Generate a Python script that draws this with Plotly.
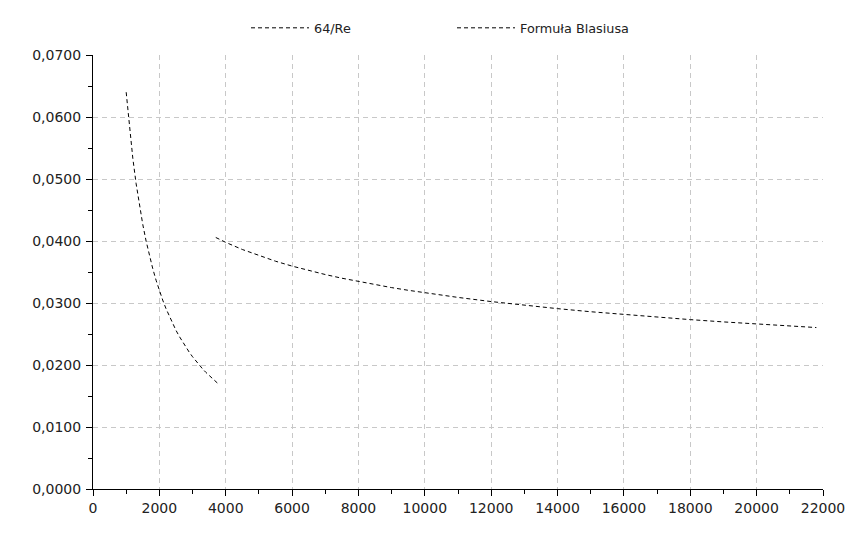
import plotly.graph_objects as go

# 64/Re (laminar)
re_lam = [1000, 1100, 1200, 1300, 1400, 1500, 1600, 1700, 1800, 1900, 2000,
          2100, 2200, 2300, 2400, 2500, 2600, 2700, 2800, 2900, 3000,
          3100, 3200, 3300, 3400, 3500, 3600, 3700, 3800]
f_lam = [0.0640, 0.05818, 0.05333, 0.04923, 0.04571, 0.04267, 0.0400, 0.03765,
         0.03556, 0.03368, 0.0320, 0.03048, 0.02909, 0.02783, 0.02667, 0.02560,
         0.02462, 0.02370, 0.02286, 0.02207, 0.02133, 0.02065, 0.0200, 0.01939,
         0.01882, 0.01829, 0.01778, 0.01730, 0.01684]

# Formuła Blasiusa
re_bla = [3700, 4000, 4500, 5000, 5500, 6000, 6500, 7000, 7500, 8000, 8500,
          9000, 9500, 10000, 11000, 12000, 13000, 14000, 15000, 16000, 17000,
          18000, 19000, 20000, 21000, 21800]
f_bla = [0.04057, 0.03978, 0.03863, 0.03763, 0.03674, 0.03595, 0.03523, 0.03459,
         0.03400, 0.03346, 0.03295, 0.03248, 0.03205, 0.03164, 0.03090, 0.03023,
         0.02963, 0.02909, 0.02859, 0.02813, 0.02771, 0.02732, 0.02695, 0.02661,
         0.02628, 0.02604]

names = ["64/Re", "Formuła Blasiusa"]

fig = go.Figure()
fig.add_trace(go.Scatter(x=re_lam, y=f_lam, mode="lines", name=names[0],
                         line=dict(color="black", width=1, dash="4px,3px")))
fig.add_trace(go.Scatter(x=re_bla, y=f_bla, mode="lines", name=names[1],
                         line=dict(color="black", width=1, dash="4px,3px")))

grid = dict(showgrid=True, gridcolor="#c8c8c8", gridwidth=1, griddash="5px,4px")

W, H = 857, 537
fig.update_layout(
    width=W, height=H,
    margin=dict(l=85, r=42, t=47, b=56, autoexpand=False),
    paper_bgcolor="white", plot_bgcolor="white",
    separators=", ",
    font=dict(family="DejaVu Sans", size=14, color="#222"),
    showlegend=True,
    legend=dict(orientation="h", xref="container", yref="container",
                x=238 / W, xanchor="left", y=1 - 20 / H, yanchor="middle",
                font=dict(size=12.8, color="#222"),
                itemwidth=58, entrywidth=133, entrywidthmode="pixels",
                bgcolor="rgba(0,0,0,0)"),
    xaxis=dict(range=[0, 22000], tickmode="linear", tick0=0, dtick=2000,
               tickformat="d", ticks="outside", ticklen=6, tickcolor="black",
               showline=True, linecolor="black", linewidth=1, zeroline=False,
               minor=dict(dtick=1000, ticks="outside", ticklen=4, tickcolor="black",
                          showgrid=False),
               **grid),
    yaxis=dict(range=[0, 0.07], tickmode="linear", tick0=0, dtick=0.01,
               tickformat=".4f", ticks="outside", ticklen=6, tickcolor="black",
               ticklabelstandoff=2,
               showline=True, linecolor="black", linewidth=1, zeroline=False,
               minor=dict(dtick=0.005, ticks="outside", ticklen=4, tickcolor="black",
                          showgrid=False),
               **grid),
)

fig.write_html("out.html")
